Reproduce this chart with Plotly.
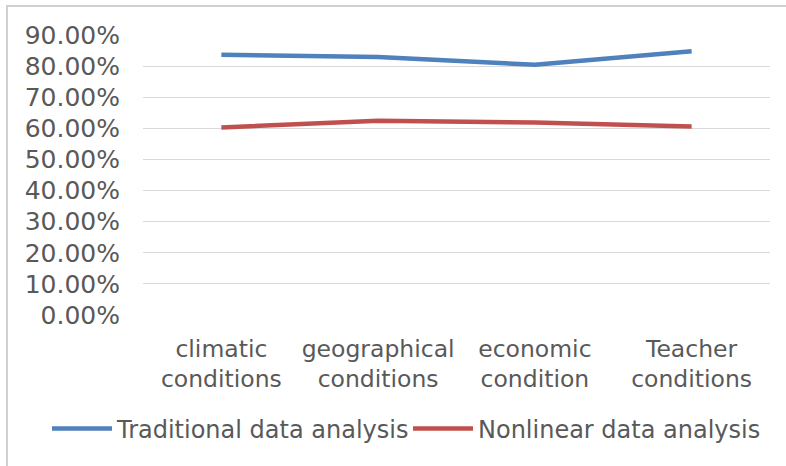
import plotly.graph_objects as go

categories = ["climatic<br>conditions", "geographical<br>conditions", "economic<br>condition", "Teacher<br>conditions"]
traditional = [0.8365, 0.829, 0.8045, 0.848]
nonlinear = [0.603, 0.6245, 0.619, 0.606]
y_ticks = [0.0, 0.1, 0.2, 0.3, 0.4, 0.5, 0.6, 0.7, 0.8, 0.9]
y_tick_labels = ["0.00%", "10.00%", "20.00%", "30.00%", "40.00%", "50.00%", "60.00%", "70.00%", "80.00%", "90.00%"]

W, H = 786, 466
L, R, T, B = 143, 16, 35, 151
pw, ph = W - L - R, H - T - B

FAM = "DejaVu Sans, Verdana, sans-serif"
GREY = "#595959"

fig = go.Figure()
fig.add_trace(go.Scatter(x=categories, y=traditional, mode="lines", name="Traditional data analysis",
                         line=dict(color="#4F81BD", width=4.5)))
fig.add_trace(go.Scatter(x=categories, y=nonlinear, mode="lines", name="Nonlinear data analysis",
                         line=dict(color="#C0504D", width=4.5)))

def px_x(x):
    return (x - L) / pw

def px_y(y):
    return 1 - (y - T) / ph

fig.update_layout(
    width=W, height=H,
    margin=dict(l=L, r=R, t=T, b=B, autoexpand=False),
    paper_bgcolor="white", plot_bgcolor="white",
    font=dict(family=FAM, size=24, color=GREY),
    showlegend=True,
    legend=dict(orientation="h", xref="paper", yref="paper", x=px_x(47), xanchor="left",
                y=px_y(429), yanchor="middle", font=dict(family=FAM, size=24, color=GREY),
                itemwidth=60, entrywidth=286, entrywidthmode="pixels", tracegroupgap=0,
                bgcolor="rgba(0,0,0,0)"),
    xaxis=dict(range=[-0.5, 3.5], showgrid=False, showline=False, zeroline=False, ticks="",
               ticklabelstandoff=17, tickfont=dict(family=FAM, size=23.5, color=GREY)),
    yaxis=dict(range=[0, 0.9], tickvals=y_ticks, ticktext=y_tick_labels, showgrid=True,
               gridcolor="#D9D9D9", gridwidth=1.3, zeroline=False, showline=False, ticks="",
               ticklabelstandoff=22, tickfont=dict(family=FAM, size=25, color=GREY)),
    shapes=[dict(type="rect", xref="paper", yref="paper",
                 x0=px_x(7), x1=px_x(800), y0=px_y(6), y1=px_y(480),
                 line=dict(color="#D0D0D0", width=2), layer="below")],
)

fig.write_html("out.html", config={"displayModeBar": False},
               post_script="document.body.style.margin='0';")
